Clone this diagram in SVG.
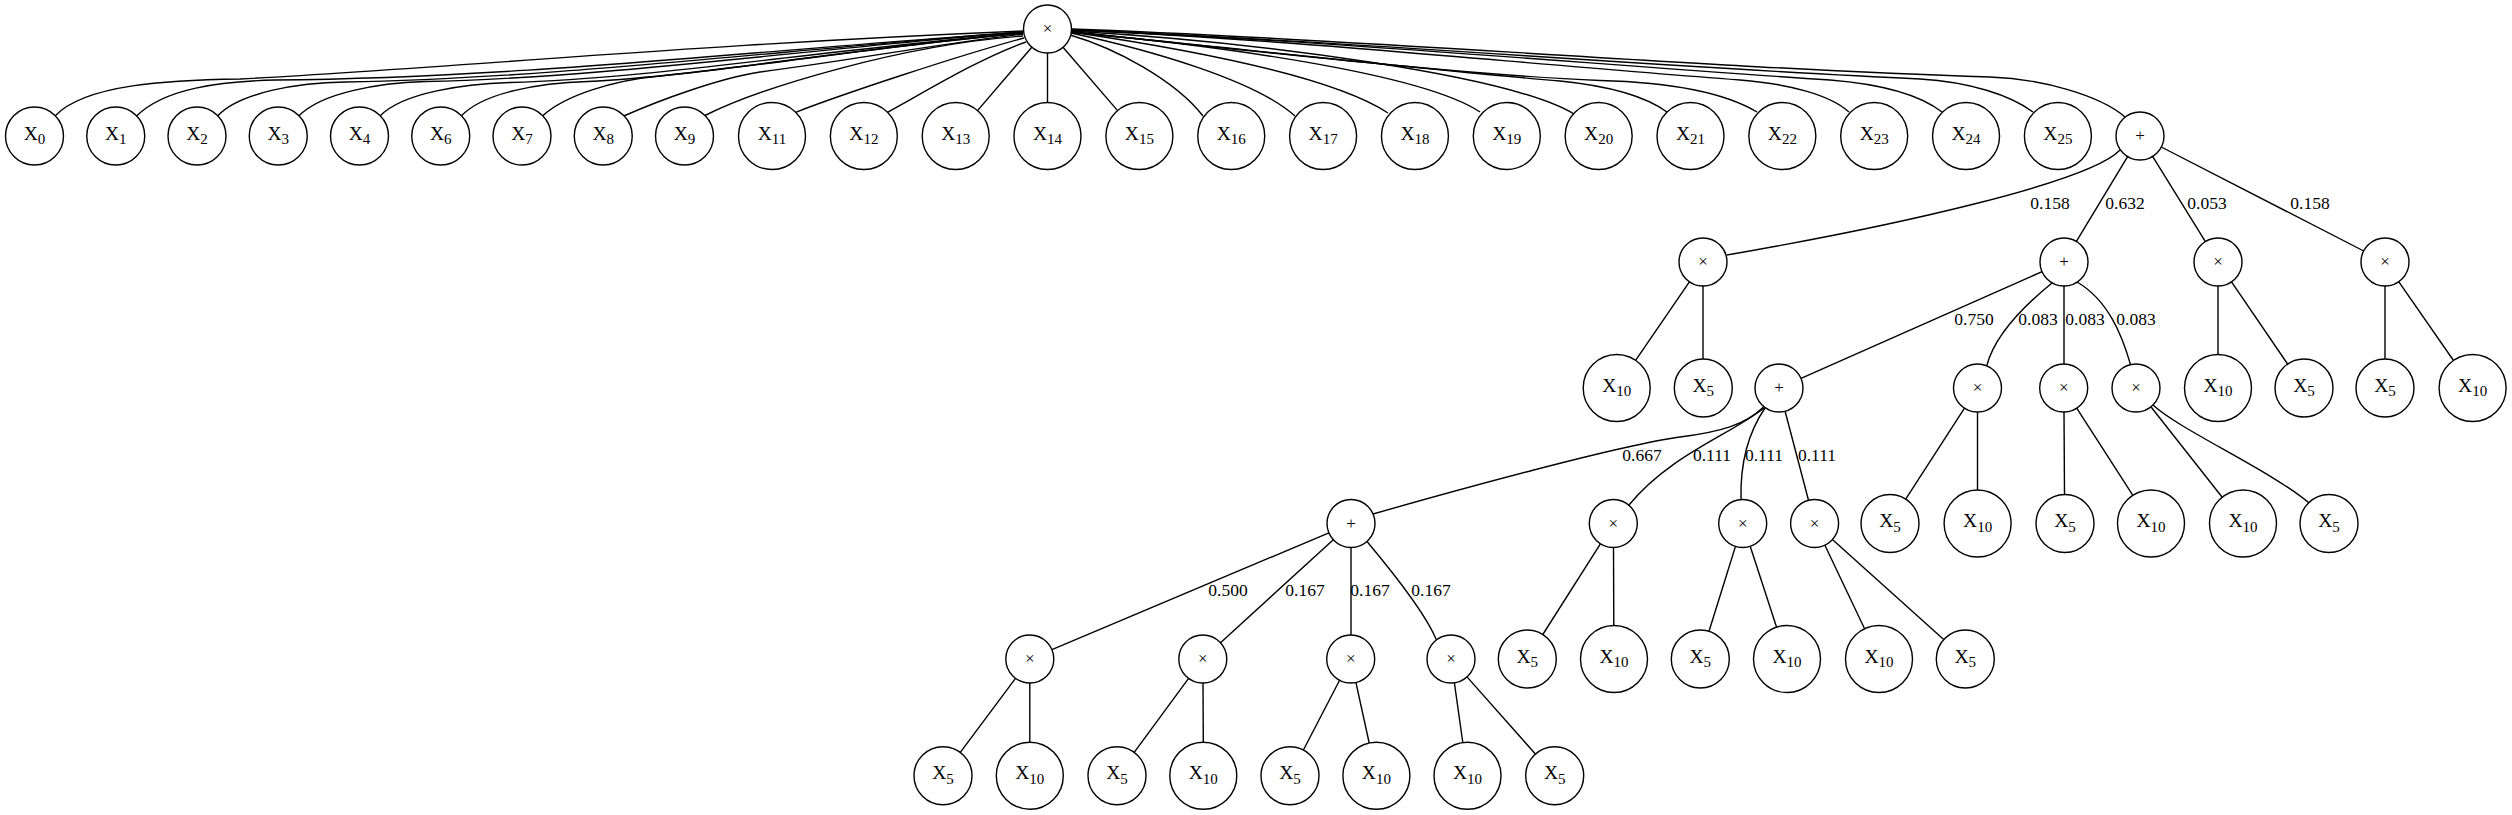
<svg xmlns="http://www.w3.org/2000/svg" width="2512" height="815" viewBox="0 0 2512 815">
<style>
.e{fill:none;stroke:#000;stroke-width:1.4}
.n{fill:#fff;stroke:#000;stroke-width:1.4}
.t{font-family:"Liberation Serif","Times New Roman",serif;font-size:19.5px;text-anchor:middle;fill:#000}
.s{font-size:15px}
.o{font-family:"Liberation Serif","Times New Roman",serif;font-size:17px;text-anchor:middle;fill:#000}
.l{font-family:"Liberation Serif","Times New Roman",serif;font-size:17.5px;text-anchor:middle;fill:#000}
</style>
<rect width="2512" height="815" fill="#fff"/>
<g id="connectors">
<!-- root to top row, left -->
<path class="e" d="M1023,31 C700,44 450,68 240,79 C170,80 85,84 55,116"/>
<path class="e" d="M1023,32 C760,50 520,78 275,80 C220,81.5 165,88 136.5,116"/>
<path class="e" d="M1023,32 C780,50 560,78 345,82 C300,82.5 240,92 217.5,116"/>
<path class="e" d="M1023,32 C800,50 600,78 425,81.5 C380,83 322,92 298.75,116"/>
<path class="e" d="M1023,33 C820,50 650,79 510,82.5 C465,84 403,92 380,116"/>
<path class="e" d="M1023,33 C840,50 700,76 588,81.5 C540,83 484,92 461.25,116"/>
<path class="e" d="M1023,33 C900,44 760,66 660,76 C615,80 565,95 542.5,116"/>
<path class="e" d="M1023,34 C930,45 840,62 760,72 C720,78 660,100 623.75,116"/>
<path class="e" d="M1023,36 C900,45 760,88 705,115.5"/>
<path class="e" d="M1024,38 C960,55 840,95 795.7,112.3"/>
<path class="e" d="M1026,42 C980,58 925,92 887.5,112.3"/>
<path class="e" d="M1032,47 L977.5,110.6"/>
<path class="e" d="M1047.5,53 L1047.5,102.5"/>
<!-- root to top row, right -->
<path class="e" d="M1063,47.2 L1117.6,110.6"/>
<path class="e" d="M1070,35 C1115,48 1175,80 1203,116"/>
<path class="e" d="M1071,33 C1150,50 1255,80 1295,116"/>
<path class="e" d="M1071,32 C1180,48 1330,75 1388,113"/>
<path class="e" d="M1071,32 C1210,45 1420,72 1480,112"/>
<path class="e" d="M1071,31 C1260,42 1510,75 1574,114"/>
<path class="e" d="M1071,32 C1250,50 1450,72 1560,81 C1610,86 1645,96 1667,112"/>
<path class="e" d="M1071,32 C1250,50 1450,74 1600,80.5 C1660,82 1720,90 1757,112"/>
<path class="e" d="M1072,30 C1300,40 1500,62 1740,80 C1790,84 1830,95 1849,112"/>
<path class="e" d="M1072,30 C1320,40 1600,65 1830,80 C1880,84 1920,95 1942,112"/>
<path class="e" d="M1072,30 C1340,40 1650,67 1920,79 C1970,82 2010,95 2033,112"/>
<path class="e" d="M1072,29 C1360,39 1700,68 1990,77 C2040,78.5 2100,95 2125,117"/>
<!-- level 1 + -->
<path class="e" d="M2120,150 C2090,182 1900,225 1727,255"/>
<path class="e" d="M2127.6,156.6 L2076.4,241.4"/>
<path class="e" d="M2152.6,156.4 L2205.4,241.6"/>
<path class="e" d="M2161.3,147 L2363.7,251"/>
<!-- level 2 -->
<path class="e" d="M1689.4,281.8 L1635.6,360.4"/>
<path class="e" d="M1703,286 L1703,359"/>
<path class="e" d="M2042,271.7 L1801,378.3"/>
<path class="e" d="M2052,283 C2025,305 1995,335 1987,365"/>
<path class="e" d="M2064,286 L2064,364"/>
<path class="e" d="M2077,282 C2108,300 2122,335 2130.5,364.6"/>
<path class="e" d="M2218,286 L2218,354.5"/>
<path class="e" d="M2231.5,281.8 L2287.6,364"/>
<path class="e" d="M2385,286 L2385,359"/>
<path class="e" d="M2398.7,281.7 L2453.5,360.5"/>
<!-- level 3 -->
<path class="e" d="M1763.5,407 C1745,425 1720,432 1680,437 C1620,445 1450,492 1373,514"/>
<path class="e" d="M1764,408 C1730,435 1670,455 1629,505"/>
<path class="e" d="M1765,408 C1750,430 1740,460 1741,499.5"/>
<path class="e" d="M1785.1,411.2 L1808.5,500.3"/>
<path class="e" d="M1964.5,408.2 L1905.7,499.1"/>
<path class="e" d="M1977.5,412 L1977.5,490"/>
<path class="e" d="M2064,412 L2064.5,494.5"/>
<path class="e" d="M2076.7,408.2 L2132.9,495.3"/>
<path class="e" d="M2150.9,406.8 L2222.2,497.2"/>
<path class="e" d="M2153,405 C2180,430 2270,470 2309.4,503.3"/>
<!-- level 4 -->
<path class="e" d="M1328.9,532.8 L1051.9,649.7"/>
<path class="e" d="M1333.3,539.7 L1220.5,642.8"/>
<path class="e" d="M1351,547.5 L1351,635"/>
<path class="e" d="M1367,541.5 C1385,563 1425,612 1436.5,640"/>
<path class="e" d="M1600.4,543.8 L1542.8,634.5"/>
<path class="e" d="M1613.5,547.5 L1613.8,625.5"/>
<path class="e" d="M1735.5,546.4 L1709,631.3"/>
<path class="e" d="M1750.2,546.3 L1776.6,627.2"/>
<path class="e" d="M1824.9,545.2 L1864.6,628.7"/>
<path class="e" d="M1832.4,539.5 L1943.7,639.6"/>
<!-- level 5 -->
<path class="e" d="M1015.5,678.3 L960.3,752.4"/>
<path class="e" d="M1029.8,683 L1029.8,742.2"/>
<path class="e" d="M1188.6,678.3 L1134.2,752.3"/>
<path class="e" d="M1203,683 L1203.3,742.2"/>
<path class="e" d="M1339.6,680.3 L1303.4,750"/>
<path class="e" d="M1355.9,682.4 L1369.2,743"/>
<path class="e" d="M1454.4,682.8 L1462.8,742.5"/>
<path class="e" d="M1467,676.9 L1535.4,754"/>
</g>
<g id="edge-labels">
<text class="l" x="2050" y="209">0.158</text>
<text class="l" x="2125" y="209">0.632</text>
<text class="l" x="2207" y="209">0.053</text>
<text class="l" x="2310" y="209">0.158</text>
<text class="l" x="1974" y="325">0.750</text>
<text class="l" x="2038" y="325">0.083</text>
<text class="l" x="2085" y="325">0.083</text>
<text class="l" x="2136" y="325">0.083</text>
<text class="l" x="1642" y="461">0.667</text>
<text class="l" x="1712" y="461">0.111</text>
<text class="l" x="1764" y="461">0.111</text>
<text class="l" x="1817" y="461">0.111</text>
<text class="l" x="1228" y="596">0.500</text>
<text class="l" x="1305" y="596">0.167</text>
<text class="l" x="1370" y="596">0.167</text>
<text class="l" x="1431" y="596">0.167</text>
</g>
<g id="root"><circle class="n" cx="1047.5" cy="29" r="24"/><text class="o" x="1047.5" y="34">×</text></g>
<g id="x0"><circle class="n" cx="34.5" cy="136" r="29"/><text class="t" x="34.5" y="139.7">X<tspan class="s" dy="4.7">0</tspan></text></g>
<g id="x1"><circle class="n" cx="115.75" cy="136" r="29"/><text class="t" x="115.75" y="139.7">X<tspan class="s" dy="4.7">1</tspan></text></g>
<g id="x2"><circle class="n" cx="197" cy="136" r="29"/><text class="t" x="197" y="139.7">X<tspan class="s" dy="4.7">2</tspan></text></g>
<g id="x3"><circle class="n" cx="278.25" cy="136" r="29"/><text class="t" x="278.25" y="139.7">X<tspan class="s" dy="4.7">3</tspan></text></g>
<g id="x4"><circle class="n" cx="359.5" cy="136" r="29"/><text class="t" x="359.5" y="139.7">X<tspan class="s" dy="4.7">4</tspan></text></g>
<g id="x6"><circle class="n" cx="440.75" cy="136" r="29"/><text class="t" x="440.75" y="139.7">X<tspan class="s" dy="4.7">6</tspan></text></g>
<g id="x7"><circle class="n" cx="522" cy="136" r="29"/><text class="t" x="522" y="139.7">X<tspan class="s" dy="4.7">7</tspan></text></g>
<g id="x8"><circle class="n" cx="603.25" cy="136" r="29"/><text class="t" x="603.25" y="139.7">X<tspan class="s" dy="4.7">8</tspan></text></g>
<g id="x9"><circle class="n" cx="684.5" cy="136" r="29"/><text class="t" x="684.5" y="139.7">X<tspan class="s" dy="4.7">9</tspan></text></g>
<g id="x11"><circle class="n" cx="772" cy="136" r="33.5"/><text class="t" x="772" y="139.7">X<tspan class="s" dy="4.7">11</tspan></text></g>
<g id="x12"><circle class="n" cx="863.85" cy="136" r="33.5"/><text class="t" x="863.85" y="139.7">X<tspan class="s" dy="4.7">12</tspan></text></g>
<g id="x13"><circle class="n" cx="955.7" cy="136" r="33.5"/><text class="t" x="955.7" y="139.7">X<tspan class="s" dy="4.7">13</tspan></text></g>
<g id="x14"><circle class="n" cx="1047.5" cy="136" r="33.5"/><text class="t" x="1047.5" y="139.7">X<tspan class="s" dy="4.7">14</tspan></text></g>
<g id="x15"><circle class="n" cx="1139.4" cy="136" r="33.5"/><text class="t" x="1139.4" y="139.7">X<tspan class="s" dy="4.7">15</tspan></text></g>
<g id="x16"><circle class="n" cx="1231.25" cy="136" r="33.5"/><text class="t" x="1231.25" y="139.7">X<tspan class="s" dy="4.7">16</tspan></text></g>
<g id="x17"><circle class="n" cx="1323.1" cy="136" r="33.5"/><text class="t" x="1323.1" y="139.7">X<tspan class="s" dy="4.7">17</tspan></text></g>
<g id="x18"><circle class="n" cx="1414.95" cy="136" r="33.5"/><text class="t" x="1414.95" y="139.7">X<tspan class="s" dy="4.7">18</tspan></text></g>
<g id="x19"><circle class="n" cx="1506.8" cy="136" r="33.5"/><text class="t" x="1506.8" y="139.7">X<tspan class="s" dy="4.7">19</tspan></text></g>
<g id="x20"><circle class="n" cx="1598.65" cy="136" r="33.5"/><text class="t" x="1598.65" y="139.7">X<tspan class="s" dy="4.7">20</tspan></text></g>
<g id="x21"><circle class="n" cx="1690.5" cy="136" r="33.5"/><text class="t" x="1690.5" y="139.7">X<tspan class="s" dy="4.7">21</tspan></text></g>
<g id="x22"><circle class="n" cx="1782.35" cy="136" r="33.5"/><text class="t" x="1782.35" y="139.7">X<tspan class="s" dy="4.7">22</tspan></text></g>
<g id="x23"><circle class="n" cx="1874.2" cy="136" r="33.5"/><text class="t" x="1874.2" y="139.7">X<tspan class="s" dy="4.7">23</tspan></text></g>
<g id="x24"><circle class="n" cx="1966.05" cy="136" r="33.5"/><text class="t" x="1966.05" y="139.7">X<tspan class="s" dy="4.7">24</tspan></text></g>
<g id="x25"><circle class="n" cx="2057.9" cy="136" r="33.5"/><text class="t" x="2057.9" y="139.7">X<tspan class="s" dy="4.7">25</tspan></text></g>
<g id="p1"><circle class="n" cx="2140" cy="136" r="24"/><text class="o" x="2140" y="141">+</text></g>
<g id="m1"><circle class="n" cx="1703" cy="262" r="24"/><text class="o" x="1703" y="267">×</text></g>
<g id="p2"><circle class="n" cx="2064" cy="262" r="24"/><text class="o" x="2064" y="267">+</text></g>
<g id="m2"><circle class="n" cx="2218" cy="262" r="24"/><text class="o" x="2218" y="267">×</text></g>
<g id="m3"><circle class="n" cx="2385" cy="262" r="24"/><text class="o" x="2385" y="267">×</text></g>
<g id="m1_x10"><circle class="n" cx="1616.7" cy="388" r="33.5"/><text class="t" x="1616.7" y="391.7">X<tspan class="s" dy="4.7">10</tspan></text></g>
<g id="m1_x5"><circle class="n" cx="1703.3" cy="388" r="29"/><text class="t" x="1703.3" y="391.7">X<tspan class="s" dy="4.7">5</tspan></text></g>
<g id="p3"><circle class="n" cx="1779" cy="388" r="24"/><text class="o" x="1779" y="393">+</text></g>
<g id="m4"><circle class="n" cx="1977.5" cy="388" r="24"/><text class="o" x="1977.5" y="393">×</text></g>
<g id="m5"><circle class="n" cx="2063.7" cy="388" r="24"/><text class="o" x="2063.7" y="393">×</text></g>
<g id="m6"><circle class="n" cx="2136" cy="388" r="24"/><text class="o" x="2136" y="393">×</text></g>
<g id="m2_x10"><circle class="n" cx="2218" cy="388" r="33.5"/><text class="t" x="2218" y="391.7">X<tspan class="s" dy="4.7">10</tspan></text></g>
<g id="m2_x5"><circle class="n" cx="2304" cy="388" r="29"/><text class="t" x="2304" y="391.7">X<tspan class="s" dy="4.7">5</tspan></text></g>
<g id="m3_x5"><circle class="n" cx="2385" cy="388" r="29"/><text class="t" x="2385" y="391.7">X<tspan class="s" dy="4.7">5</tspan></text></g>
<g id="m3_x10"><circle class="n" cx="2472.6" cy="388" r="33.5"/><text class="t" x="2472.6" y="391.7">X<tspan class="s" dy="4.7">10</tspan></text></g>
<g id="p4"><circle class="n" cx="1351" cy="523.5" r="24"/><text class="o" x="1351" y="528.5">+</text></g>
<g id="m7"><circle class="n" cx="1613.3" cy="523.5" r="24"/><text class="o" x="1613.3" y="528.5">×</text></g>
<g id="m8"><circle class="n" cx="1742.7" cy="523.5" r="24"/><text class="o" x="1742.7" y="528.5">×</text></g>
<g id="m9"><circle class="n" cx="1814.6" cy="523.5" r="24"/><text class="o" x="1814.6" y="528.5">×</text></g>
<g id="m4_x5"><circle class="n" cx="1890" cy="523.5" r="29"/><text class="t" x="1890" y="527.2">X<tspan class="s" dy="4.7">5</tspan></text></g>
<g id="m4_x10"><circle class="n" cx="1977.6" cy="523.5" r="33.5"/><text class="t" x="1977.6" y="527.2">X<tspan class="s" dy="4.7">10</tspan></text></g>
<g id="m5_x5"><circle class="n" cx="2065" cy="523.5" r="29"/><text class="t" x="2065" y="527.2">X<tspan class="s" dy="4.7">5</tspan></text></g>
<g id="m5_x10"><circle class="n" cx="2151" cy="523.5" r="33.5"/><text class="t" x="2151" y="527.2">X<tspan class="s" dy="4.7">10</tspan></text></g>
<g id="m6_x10"><circle class="n" cx="2243" cy="523.5" r="33.5"/><text class="t" x="2243" y="527.2">X<tspan class="s" dy="4.7">10</tspan></text></g>
<g id="m6_x5"><circle class="n" cx="2329" cy="523.5" r="29"/><text class="t" x="2329" y="527.2">X<tspan class="s" dy="4.7">5</tspan></text></g>
<g id="m10"><circle class="n" cx="1029.8" cy="659" r="24"/><text class="o" x="1029.8" y="664">×</text></g>
<g id="m11"><circle class="n" cx="1202.8" cy="659" r="24"/><text class="o" x="1202.8" y="664">×</text></g>
<g id="m12"><circle class="n" cx="1350.7" cy="659" r="24"/><text class="o" x="1350.7" y="664">×</text></g>
<g id="m13"><circle class="n" cx="1451" cy="659" r="24"/><text class="o" x="1451" y="664">×</text></g>
<g id="m7_x5"><circle class="n" cx="1527.3" cy="659" r="29"/><text class="t" x="1527.3" y="662.7">X<tspan class="s" dy="4.7">5</tspan></text></g>
<g id="m7_x10"><circle class="n" cx="1614" cy="659" r="33.5"/><text class="t" x="1614" y="662.7">X<tspan class="s" dy="4.7">10</tspan></text></g>
<g id="m8_x5"><circle class="n" cx="1700.3" cy="659" r="29"/><text class="t" x="1700.3" y="662.7">X<tspan class="s" dy="4.7">5</tspan></text></g>
<g id="m8_x10"><circle class="n" cx="1787" cy="659" r="33.5"/><text class="t" x="1787" y="662.7">X<tspan class="s" dy="4.7">10</tspan></text></g>
<g id="m9_x10"><circle class="n" cx="1879" cy="659" r="33.5"/><text class="t" x="1879" y="662.7">X<tspan class="s" dy="4.7">10</tspan></text></g>
<g id="m9_x5"><circle class="n" cx="1965.3" cy="659" r="29"/><text class="t" x="1965.3" y="662.7">X<tspan class="s" dy="4.7">5</tspan></text></g>
<g id="m10_x5"><circle class="n" cx="943" cy="775.7" r="29"/><text class="t" x="943" y="779.4">X<tspan class="s" dy="4.7">5</tspan></text></g>
<g id="m10_x10"><circle class="n" cx="1029.8" cy="775.7" r="33.5"/><text class="t" x="1029.8" y="779.4">X<tspan class="s" dy="4.7">10</tspan></text></g>
<g id="m11_x5"><circle class="n" cx="1117" cy="775.7" r="29"/><text class="t" x="1117" y="779.4">X<tspan class="s" dy="4.7">5</tspan></text></g>
<g id="m11_x10"><circle class="n" cx="1203.3" cy="775.7" r="33.5"/><text class="t" x="1203.3" y="779.4">X<tspan class="s" dy="4.7">10</tspan></text></g>
<g id="m12_x5"><circle class="n" cx="1290" cy="775.7" r="29"/><text class="t" x="1290" y="779.4">X<tspan class="s" dy="4.7">5</tspan></text></g>
<g id="m12_x10"><circle class="n" cx="1376.4" cy="775.7" r="33.5"/><text class="t" x="1376.4" y="779.4">X<tspan class="s" dy="4.7">10</tspan></text></g>
<g id="m13_x10"><circle class="n" cx="1467.5" cy="775.7" r="33.5"/><text class="t" x="1467.5" y="779.4">X<tspan class="s" dy="4.7">10</tspan></text></g>
<g id="m13_x5"><circle class="n" cx="1554.7" cy="775.7" r="29"/><text class="t" x="1554.7" y="779.4">X<tspan class="s" dy="4.7">5</tspan></text></g>
</svg>
